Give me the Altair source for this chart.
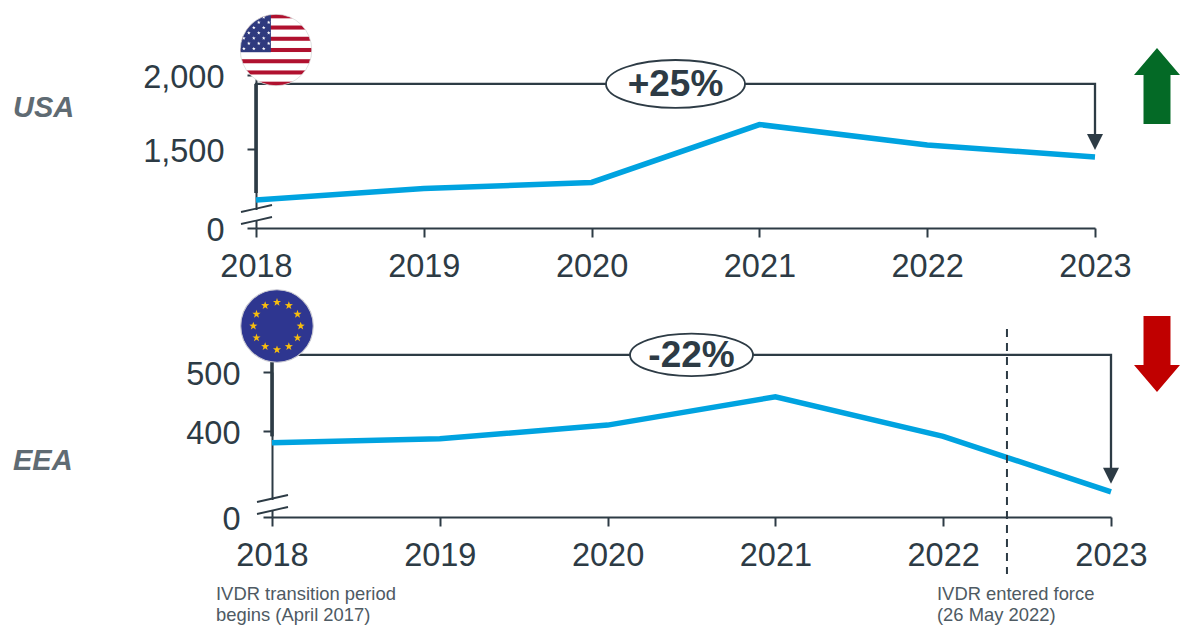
import base64, math
import altair as alt
import pandas as pd

years = [2018, 2019, 2020, 2021, 2022, 2023]
usa_values = [1150, 1228, 1269, 1663, 1524, 1442]
eea_values = [380, 387, 410, 458, 391, 297]
usa_ticks = [0, 1500, 2000]
eea_ticks = [0, 400, 500]
usa_change = "+25%"
eea_change = "-22%"
usa_bracket = 1939
eea_bracket = 529
usa_bracket_left = 1197
eea_bracket_left = 391
usa_head = 1544
eea_head = 324
ivdr_year = 2022.38
note_start = "IVDR transition period\nbegins (April 2017)"
note_force = "IVDR entered force\n(26 May 2022)"

DARK = "#2d3b45"
BLUE = "#00a3e0"
FONT = "Liberation Sans"


def star(cx, cy, r, fill):
    pts = []
    for i in range(10):
        a = -math.pi / 2 + i * math.pi / 5
        rr = r if i % 2 == 0 else r * 0.4
        pts.append(f"{cx + rr * math.cos(a):.2f},{cy + rr * math.sin(a):.2f}")
    return f'<polygon points="{" ".join(pts)}" fill="{fill}"/>'


def uri(svg):
    return "data:image/svg+xml;base64," + base64.b64encode(svg.encode()).decode()


def us_flag():
    s = ['<svg xmlns="http://www.w3.org/2000/svg" viewBox="0 0 100 100" width="146" height="146">',
         '<defs><clipPath id="c"><circle cx="50" cy="50" r="49"/></clipPath></defs><g clip-path="url(#c)">',
         '<rect width="100" height="100" fill="#fff"/>']
    h = 100 / 13
    for i in range(0, 13, 2):
        s.append(f'<rect y="{i * h + h * 0.14:.2f}" width="100" height="{h * 0.72:.2f}" fill="#b0112f"/>')
    s.append('<rect width="43" height="53" fill="#2f3a7e"/>')
    for r in range(7):
        for c in range(6):
            if (r + c) % 2 == 0:
                s.append(star(6 + c * 6.8, 5 + r * 7.2, 2.6, "#fff"))
    s.append('</g><circle cx="50" cy="50" r="49" fill="none" stroke="#d5d5d5" stroke-width="1"/></svg>')
    return uri("".join(s))


def eu_flag():
    s = ['<svg xmlns="http://www.w3.org/2000/svg" viewBox="0 0 100 100" width="148" height="148">',
         '<circle cx="50" cy="50" r="49" fill="#2e3690" stroke="#c9c9d2" stroke-width="1.5"/>']
    for i in range(12):
        a = i * math.pi / 6
        s.append(star(50 + 32 * math.sin(a), 50 - 32 * math.cos(a), 5.8, "#f7bd0e"))
    s.append("</svg>")
    return uri("".join(s))


ELLIPSE = "M-1,0A1,0.345 0 1,1 1,0A1,0.345 0 1,1 -1,0Z"
HEAD = "M-1,-1L1,-1L0,1Z"
UP = "M0,-1L0.605,-0.29L0.355,-0.29L0.355,1L-0.355,1L-0.355,-0.29L-0.605,-0.29Z"
DOWN = "M0,1L0.605,0.29L0.355,0.29L0.355,-1L-0.355,-1L-0.355,0.29L-0.605,0.29Z"


def panel(values, ticks, ydomain, yrange, xrange, label, label_y, change, bracket, bracket_left,
          head, flag, flag_xy, flag_size, big_shape, big_color, big_y, ell_w, x_offset, y_offset,
          label_pad, break_y, extra):
    x_scale = alt.Scale(domain=[2018, 2023], range=xrange, nice=False, zero=False)
    y_scale = alt.Scale(domain=ydomain, range=yrange, nice=False, zero=False, clamp=False)
    x_axis = alt.Axis(values=years, format="d", title=None, grid=False, domainColor=DARK, domainWidth=2,
                      tickColor=DARK, tickWidth=2, tickSize=9, labelFont=FONT, labelFontSize=32.5,
                      labelColor=DARK, labelPadding=13, labelFlush=False, labelOverlap=False,
                      orient="bottom", offset=x_offset)
    y_axis = alt.Axis(values=ticks, format=",d", title=None, grid=False, domainColor=DARK, domainWidth=2,
                      tickColor=DARK, tickWidth=2, tickSize=9, labelFont=FONT, labelFontSize=32.5,
                      labelColor=DARK, labelPadding=label_pad, offset=y_offset, labelOverlap=False,
                      labelFlush=False, orient="left", labelOffset=2.5)
    X = alt.X("year:Q", scale=x_scale, axis=x_axis)
    Y = alt.Y("value:Q", scale=y_scale, axis=y_axis)

    df = pd.DataFrame({"year": years, "value": values})
    gap = alt.Chart(pd.DataFrame({"year": [2018]})).mark_rule(color="white", strokeWidth=5).encode(
        x=X, y=alt.value(break_y[0]), y2=alt.value(break_y[1]))
    slants = [
        alt.Chart(pd.DataFrame({"year": [2018]})).mark_rule(color=DARK, strokeWidth=1.8).encode(
            x=alt.value(xrange[0] - 15), x2=alt.value(xrange[0] + 16),
            y=alt.value(by + 7), y2=alt.value(by))
        for by in (break_y[0] - 5, break_y[1] - 4)
    ]

    frame_df = pd.DataFrame({"year": [2018, 2018, 2023, 2023],
                             "value": [bracket_left, bracket, bracket, head]})
    frame = alt.Chart(frame_df.reset_index()).mark_line(color=DARK, strokeWidth=2.3, strokeCap="butt",
                                                        strokeJoin="miter").encode(
        x=X, y=Y, order="index:Q")
    frame_left = alt.Chart(frame_df.iloc[:2]).mark_line(color=DARK, strokeWidth=3.5).encode(x=X, y=Y)

    line = alt.Chart(df).mark_line(color=BLUE, strokeWidth=5.5, strokeCap="butt",
                                   strokeJoin="miter").encode(x=X, y=Y)

    head_mark = alt.Chart(pd.DataFrame({"year": [2023], "value": [head]})).mark_point(
        shape=HEAD, size=256, filled=True, fill=DARK, stroke=None, opacity=1).encode(x=X, y=Y)

    mid = pd.DataFrame({"year": [2020.5], "value": [bracket], "t": [change]})
    ell = alt.Chart(mid).mark_point(shape=ELLIPSE, size=ell_w ** 2, filled=True, fill="white",
                                    stroke=DARK, strokeWidth=1.8, opacity=1).encode(x=X, y=Y)
    txt = alt.Chart(mid).mark_text(font=FONT, fontSize=37, fontWeight="bold", color=DARK, dy=1.5).encode(
        x=X, y=Y, text="t:N")

    flag_mark = alt.Chart(pd.DataFrame({"year": [2018]})).mark_image(
        url=flag, width=flag_size, height=flag_size).encode(
        x=alt.value(flag_xy[0]), y=alt.value(flag_xy[1]))

    lab = alt.Chart(pd.DataFrame({"t": [label]})).mark_text(
        font=FONT, fontSize=29, fontWeight="bold", fontStyle="italic", color="#5f6b73", align="left").encode(
        x=alt.value(-243), y=alt.value(label_y), text="t:N")

    big = alt.Chart(pd.DataFrame({"year": [2018]})).mark_point(
        shape=big_shape, size=76 ** 2, filled=True, fill=big_color, stroke=None, opacity=1).encode(
        x=alt.value(901), y=alt.value(big_y))

    extras = []
    for item in extra:
        if item[0] == "dash":
            extras.append(alt.Chart(pd.DataFrame({"year": [ivdr_year]})).mark_rule(
                color=DARK, strokeWidth=2, strokeDash=[8, 6]).encode(
                x=X, y=alt.value(item[1]), y2=alt.value(item[2])))
        else:
            extras.append(alt.Chart(pd.DataFrame({"t": [item[1]]})).mark_text(
                font=FONT, fontSize=18.4, color="#4e5a63", align="left", baseline="middle",
                lineBreak="\n", lineHeight=21).encode(
                x=alt.value(item[2]), y=alt.value(item[3]), text="t:N"))

    return alt.layer(gap, *slants, frame, frame_left, line, head_mark, ell, txt, *extras, flag_mark, lab, big)


DY = 297  # the lower panel's place inside the one shared plot area
top = panel(usa_values, usa_ticks, [0, 1000, 2000], [153, 147, 0], [0, 839], "USA", 33, usa_change,
            usa_bracket, usa_bracket_left, usa_head, us_flag(), (20, -25), 73, UP, "#046a26", 11,
            139, -289, 0, 23, (135, 146), [])
bottom = panel(eea_values, eea_ticks, [0, 260, 500], [145 + DY, 141.6 + DY, DY], [16, 855], "EEA", 89 + DY,
               eea_change, eea_bracket, eea_bracket_left, eea_head, eu_flag(), (21, DY - 46), 74, DOWN,
               "#c00000", DY - 18, 123, 0, -16, 23, (128 + DY, 139 + DY),
               [("dash", DY - 43, DY + 202), ("note", note_start, 216 - 256, DY + 222),
                ("note", note_force, 937 - 256, DY + 222)])

chart = alt.layer(top, bottom).resolve_scale(x="independent", y="independent").properties(
    width=855, height=442, autosize="none",
    padding={"left": 248, "top": 67, "right": 69, "bottom": 108},
).configure_view(stroke=None)

chart.save("out.html", embed_options={"renderer": "svg", "actions": False})
